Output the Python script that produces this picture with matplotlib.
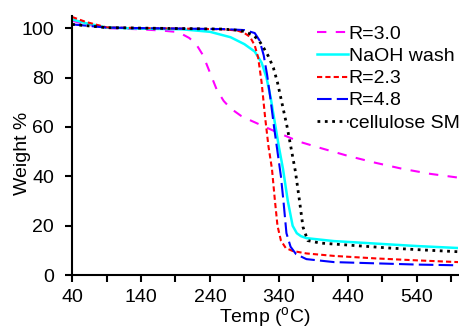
import matplotlib
matplotlib.use('Agg')
import matplotlib.pyplot as plt
from matplotlib.ticker import MultipleLocator, FixedLocator

plt.rcParams['font.family'] = ['Liberation Sans', 'DejaVu Sans']
plt.rcParams['mathtext.fontset'] = 'custom'
plt.rcParams['mathtext.rm'] = 'Liberation Sans'

# TGA curves: temperature (C) and weight (%)
t_r30 = [40, 60, 90, 140, 170, 190, 200, 210, 220, 230, 240, 250, 260, 270, 285, 300,
         320, 340, 370, 400, 440, 480, 520, 560, 600]
w_r30 = [103, 101.5, 100, 99.5, 99, 98.5, 97.5, 96, 93.5, 89, 82, 75, 70.5, 67.5, 64.5, 62.5,
         60, 57.5, 54, 51.5, 48.3, 45.5, 43, 41, 39.5]

t_naoh = [40, 60, 90, 140, 200, 240, 270, 290, 305, 315, 322, 328, 334, 340, 346, 353,
          360, 366, 372, 380, 420, 480, 540, 600]
w_naoh = [103.5, 102, 100.2, 99.8, 99.5, 98.5, 96.3, 93.5, 90.5, 86, 80, 72, 62, 52, 43, 30,
          20, 17, 15.8, 15, 13.8, 12.8, 11.8, 11]

t_r23 = [40, 60, 90, 140, 200, 260, 280, 290, 298, 305, 310, 315, 320, 325, 330, 334,
         338, 343, 350, 360, 380, 420, 480, 540, 600]
w_r23 = [104.5, 102.5, 100.3, 100, 99.8, 99.5, 99, 98, 96.5, 93, 88, 78, 64, 52, 43, 31,
         20, 14, 11, 9.8, 8.8, 7.8, 6.8, 6, 5.3]

t_r48 = [40, 60, 90, 140, 200, 260, 290, 305, 312, 318, 323, 328, 333, 338, 343, 347,
         351, 357, 365, 380, 420, 480, 540, 600]
w_r48 = [101.5, 101, 100.2, 100, 99.8, 99.6, 99.2, 98, 95, 89, 81, 71, 60, 50, 40, 29,
         17, 11.5, 8.5, 6.5, 5.3, 4.8, 4.3, 4]

t_cell = [40, 60, 90, 140, 200, 260, 285, 300, 310, 318, 325, 332, 338, 345, 352, 358,
          364, 370, 375, 382, 400, 450, 500, 550, 600]
w_cell = [101.5, 101, 100.2, 100, 99.8, 99.6, 99, 97.5, 95.5, 92, 88.5, 84, 78, 69, 60, 51,
          42, 30, 19.5, 14, 13, 12, 11, 10.2, 9.5]

fig = plt.figure(figsize=(4.59, 3.28), dpi=100)
ax = fig.add_axes([0.157, 0.161, 0.841, 0.791])

ax.plot(t_r30, w_r30, color='#ff00ff', lw=1.5, dashes=(4.5, 4.5), label='R=3.0')
ax.plot(t_naoh, w_naoh, color='#00ffff', lw=1.8, label='NaOH wash')
ax.plot(t_r23, w_r23, color='#ff0000', lw=1.5, dashes=(2.5, 1.5), label='R=2.3')
ax.plot(t_r48, w_r48, color='#0000ff', lw=1.5, dashes=(7, 2.5), label='R=4.8')
ax.plot(t_cell, w_cell, color='black', lw=2, linestyle=':', label='cellulose SM')

ax.set_xlim(40, 600)
ax.set_ylim(0, 105)
ax.xaxis.set_major_locator(FixedLocator([40, 140, 240, 340, 440, 540]))
ax.xaxis.set_minor_locator(FixedLocator([90, 190, 290, 390, 490, 590]))
ax.yaxis.set_major_locator(MultipleLocator(20))

for s in ['top', 'right']:
    ax.spines[s].set_visible(False)
for s in ['left', 'bottom']:
    ax.spines[s].set_linewidth(1.5)
ax.tick_params(which='both', direction='out', length=5, width=1.5, labelsize=14)
ax.tick_params(axis='x', pad=5)
ax.tick_params(axis='y', pad=8)

ax.set_xlabel('Temp ($\\mathrm{^{o}}$C)', fontsize=14)
ax.xaxis.set_label_coords(0.5, -0.113)
ax.set_ylabel('Weight %', fontsize=14)
ax.yaxis.set_label_coords(-0.106, 0.47)

ax.legend(loc='upper left', bbox_to_anchor=(0.69, 0.922), bbox_transform=fig.transFigure,
          frameon=False, fontsize=14, handlelength=1.6, handletextpad=0.05,
          labelspacing=0.23, borderpad=0, borderaxespad=0)

fig.savefig('out.png', dpi=100)
